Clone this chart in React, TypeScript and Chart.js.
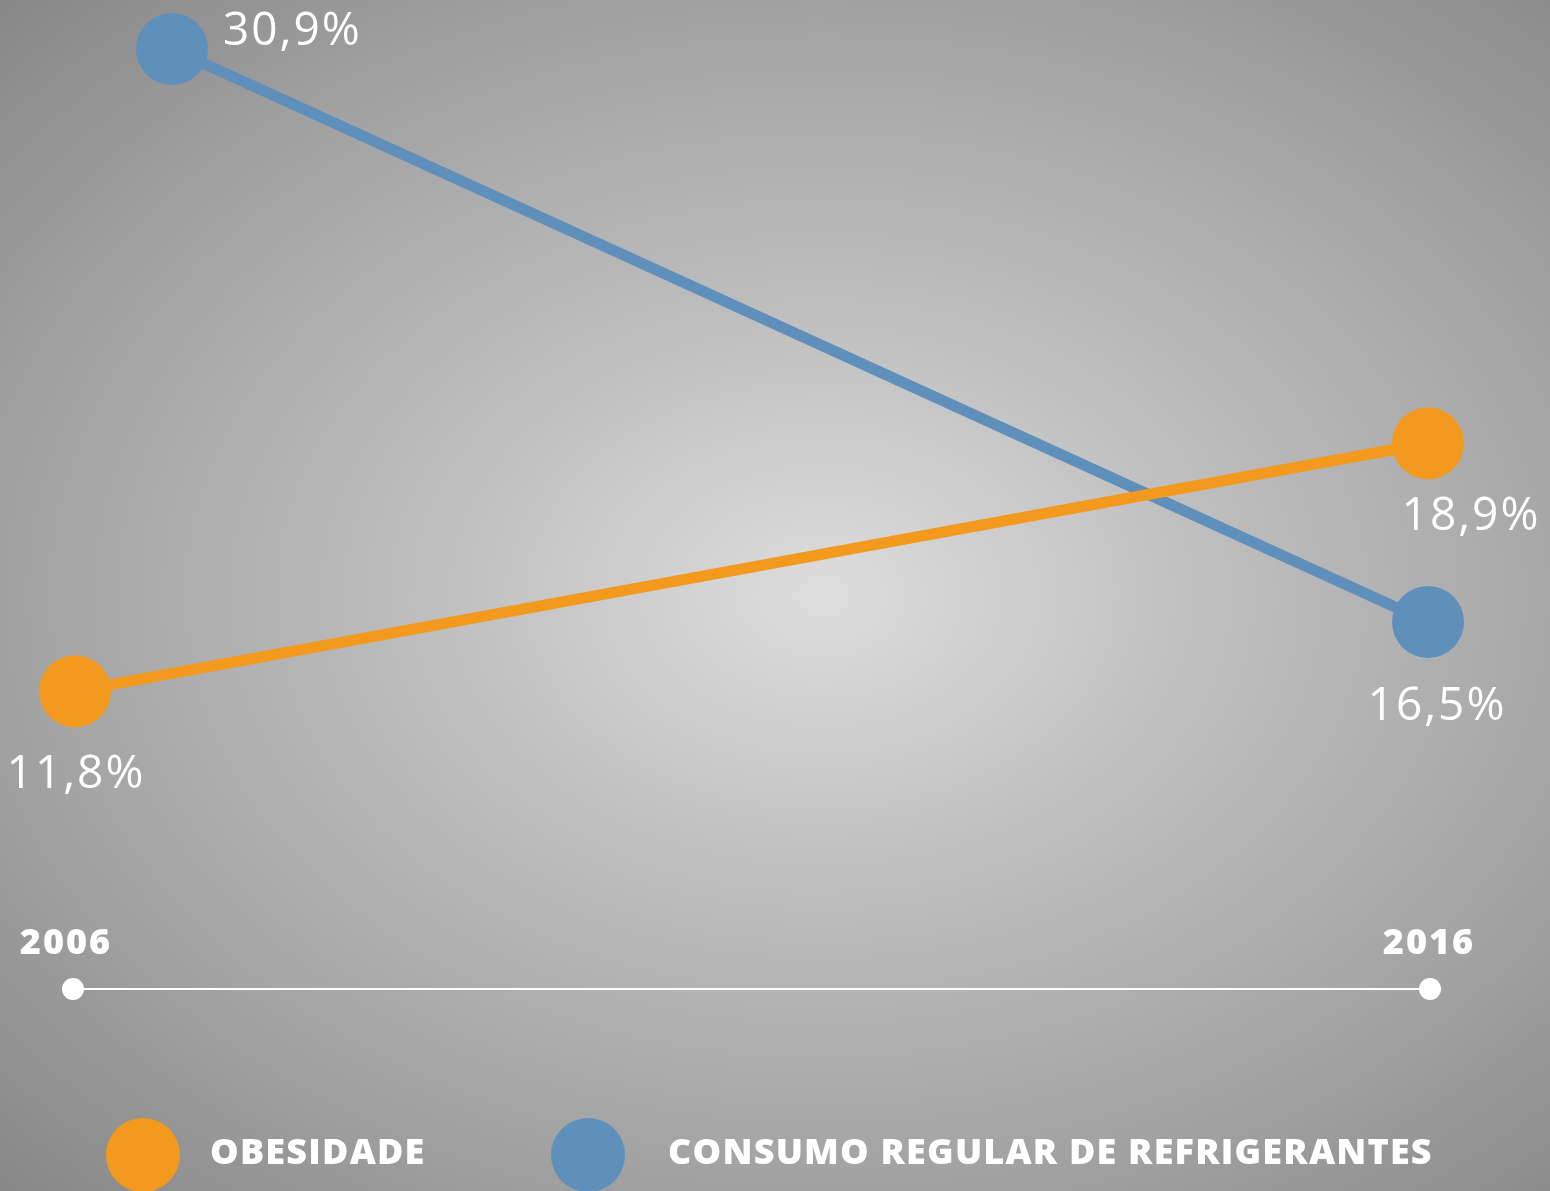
import React, { useEffect, useRef } from "react";
import { Chart, registerables } from "chart.js";

Chart.register(...registerables);

// ---- data ----
const years = [2006, 2016];
const seriesNames = ["OBESIDADE", "CONSUMO REGULAR DE REFRIGERANTES"];
const obesidade = [11.8, 18.9];
const refrigerantes = [30.9, 16.5];
const seriesColors = ["#F39A1E", "#5F8FBB"];

// ---- styles / layout ----
const W = 1550;
const H = 1191;
const FONT = "'Open Sans', 'Noto Sans', sans-serif";

// per-point label placement (pixel offsets from the point centre, baseline alphabetic)
const labelPlacement = [
  [
    { dx: 1, dy: 97, align: "center" },
    { dx: 43, dy: 87, align: "center" },
  ],
  [
    { dx: 51, dy: -4, align: "left" },
    { dx: 9, dy: 98, align: "center" },
  ],
];
// horizontal pixel nudge of the first refrigerantes point (as in the original infographic)
const pointNudge = [[0, 0], [97, 0]];

const fmt = (v: number) => v.toFixed(1).replace(".", ",") + "%";

const nudgePlugin = {
  id: "nudge",
  afterDatasetsUpdate(chart: any) {
    chart.data.datasets.forEach((_: any, di: number) => {
      const meta = chart.getDatasetMeta(di);
      meta.data.forEach((pt: any, i: number) => {
        pt.x += pointNudge[di][i] || 0;
      });
    });
  },
};

const timelinePlugin = {
  id: "timeline",
  beforeDatasetsDraw(chart: any) {
    const { ctx, scales } = chart;
    const x = scales.x;
    const y = 989;
    const x0 = x.getPixelForValue(years[0]) - 2;
    const x1 = x.getPixelForValue(years[years.length - 1]) + 2;
    ctx.save();
    ctx.strokeStyle = "#ffffff";
    ctx.lineWidth = 2;
    ctx.beginPath();
    ctx.moveTo(x0, y);
    ctx.lineTo(x1, y);
    ctx.stroke();
    ctx.fillStyle = "#ffffff";
    [x0, x1].forEach((px) => {
      ctx.beginPath();
      ctx.arc(px, y, 11, 0, Math.PI * 2);
      ctx.fill();
    });
    ctx.font = `800 36px ${FONT}`;
    (ctx as any).letterSpacing = "2px";
    ctx.textAlign = "center";
    ctx.textBaseline = "alphabetic";
    const yearNudge = [-9, 1];
    years.forEach((yr, i) => {
      ctx.fillText(String(yr), x.getPixelForValue(yr) + yearNudge[i], 954);
    });
    ctx.restore();
  },
};

const valueLabelPlugin = {
  id: "valueLabels",
  afterDatasetsDraw(chart: any) {
    const { ctx } = chart;
    ctx.save();
    ctx.fillStyle = "#ffffff";
    ctx.font = `400 46px ${FONT}`;
    (ctx as any).letterSpacing = "2px";
    ctx.textBaseline = "alphabetic";
    chart.data.datasets.forEach((ds: any, di: number) => {
      const meta = chart.getDatasetMeta(di);
      meta.data.forEach((pt: any, i: number) => {
        const p = labelPlacement[di][i];
        ctx.textAlign = p.align;
        ctx.fillText(fmt(ds.data[i]), pt.x + p.dx, pt.y + p.dy);
      });
    });
    ctx.restore();
  },
};

export default function App() {
  const ref = useRef<HTMLCanvasElement | null>(null);

  useEffect(() => {
    if (!ref.current) return;
    const mk = (label: string, data: number[], color: string, axis: string) => ({
      label,
      data,
      yAxisID: axis,
      borderColor: color,
      backgroundColor: color,
      pointBackgroundColor: color,
      pointBorderWidth: 0,
      pointRadius: 36,
      pointHoverRadius: 36,
      borderWidth: 11,
      tension: 0,
      clip: false as any,
    });
    const chart = new Chart(ref.current, {
      type: "line",
      data: {
        labels: years,
        datasets: [
          mk(seriesNames[0], obesidade, seriesColors[0], "y"),
          mk(seriesNames[1], refrigerantes, seriesColors[1], "y2"),
        ],
      },
      options: {
        responsive: false,
        animation: false,
        events: [],
        layout: { autoPadding: false, padding: { left: 75, right: 122, top: 0, bottom: 0 } },
        scales: {
          x: { type: "linear", min: years[0], max: years[1], display: false },
          y: { type: "linear", min: -2.51, max: 31.59, display: false },
          y2: { type: "linear", min: 2.2, max: 32.13, display: false },
        },
        plugins: {
          legend: { display: false },
          tooltip: { enabled: false },
        },
      },
      plugins: [nudgePlugin, timelinePlugin, valueLabelPlugin],
    } as any);
    return () => chart.destroy();
  }, []);

  const legendItem = (i: number, cx: number, tx: number) => (
    <React.Fragment key={i}>
      <div
        style={{
          position: "absolute",
          left: cx - 37,
          top: 1155 - 37,
          width: 74,
          height: 74,
          borderRadius: "50%",
          background: seriesColors[i],
        }}
      />
      <div
        style={{
          position: "absolute",
          left: tx,
          top: 1128,
          fontFamily: FONT,
          fontWeight: 800,
          fontSize: 36,
          lineHeight: "46px",
          letterSpacing: "1.2px",
          color: "#ffffff",
          whiteSpace: "nowrap",
        }}
      >
        {seriesNames[i]}
      </div>
    </React.Fragment>
  );

  return (
    <div
      style={{
        position: "absolute",
        left: 0,
        top: 0,
        width: W,
        height: H,
        overflow: "hidden",
        background:
          "radial-gradient(ellipse farthest-corner at 53% 50%, #dddddd 0%, #bdbdbd 35%, #a2a2a2 70%, #878787 100%)",
      }}
    >
      <canvas
        ref={ref}
        width={W}
        height={H}
        style={{ position: "absolute", left: 0, top: 0, width: W, height: H }}
      />
      {legendItem(0, 143, 210)}
      {legendItem(1, 588, 668)}
    </div>
  );
}
